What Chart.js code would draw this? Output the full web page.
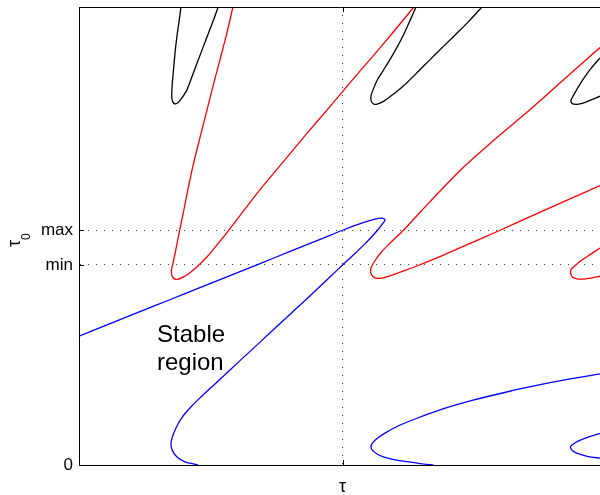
<!DOCTYPE html>
<html>
<head>
<meta charset="utf-8">
<script src="https://cdn.jsdelivr.net/npm/chart.js@4/dist/chart.umd.min.js"></script>
<style>
  html, body { margin: 0; padding: 0; background: #fff; }
  canvas { display: block; }
</style>
</head>
<body>
<canvas id="chart" width="600" height="495"></canvas>
<script>
// axis units: tau = 1 on x, max = 1 on y
const xMax = 1.977
const yMax = 1.951

const xTickValues = [1]
const xTickLabels = ['τ']
const yTickValues = [0, 0.852, 1]
const yTickLabels = ['0', 'min', 'max']

// curves, [tau, tau0]
const black1 = [[0.387,1.951],[0.380,1.893],[0.373,1.838],[0.367,1.783],[0.362,1.727],[0.358,1.676],[0.354,1.625],[0.352,1.582],[0.353,1.557],[0.359,1.542],[0.366,1.538],[0.376,1.544],[0.387,1.559],[0.398,1.576],[0.410,1.599],[0.429,1.655],[0.453,1.727],[0.471,1.780],[0.490,1.836],[0.509,1.891],[0.528,1.951]]
const black2 = [[1.279,1.951],[1.256,1.893],[1.233,1.836],[1.207,1.780],[1.180,1.727],[1.154,1.680],[1.131,1.638],[1.116,1.599],[1.108,1.571],[1.109,1.550],[1.118,1.538],[1.131,1.537],[1.155,1.549],[1.180,1.569],[1.211,1.595],[1.244,1.628],[1.287,1.676],[1.332,1.727],[1.381,1.781],[1.431,1.836],[1.480,1.891],[1.529,1.951]]
const black3 = [[1.977,1.734],[1.939,1.684],[1.905,1.629],[1.880,1.582],[1.867,1.554],[1.871,1.540],[1.886,1.536],[1.905,1.539],[1.932,1.550],[1.977,1.571]]

const red1 = [[0.584,1.951],[0.560,1.834],[0.535,1.727],[0.510,1.620],[0.486,1.514],[0.462,1.407],[0.438,1.301],[0.417,1.194],[0.398,1.087],[0.381,0.994],[0.368,0.921],[0.358,0.866],[0.351,0.832],[0.353,0.806],[0.362,0.793],[0.374,0.791],[0.395,0.800],[0.421,0.819],[0.452,0.849],[0.486,0.887],[0.524,0.938],[0.562,0.991],[0.622,1.079],[0.687,1.173],[0.774,1.290],[0.861,1.407],[0.953,1.528],[1.028,1.628],[1.104,1.727],[1.188,1.838],[1.271,1.951]]
const red2 = [[1.977,1.778],[1.844,1.646],[1.712,1.514],[1.585,1.394],[1.458,1.267],[1.332,1.122],[1.231,1.000],[1.180,0.945],[1.142,0.900],[1.123,0.870],[1.109,0.842],[1.107,0.819],[1.116,0.802],[1.131,0.795],[1.154,0.797],[1.180,0.806],[1.237,0.829],[1.294,0.853],[1.376,0.891],[1.458,0.931],[1.598,1.000],[1.712,1.058],[1.844,1.124],[1.977,1.190]]
const red3 = [[1.977,0.924],[1.939,0.896],[1.901,0.867],[1.879,0.846],[1.867,0.832],[1.866,0.815],[1.873,0.800],[1.890,0.793],[1.913,0.792],[1.939,0.796],[1.977,0.804]]

const blue1 = [[0.452,0],[0.402,0.013],[0.372,0.034],[0.355,0.060],[0.349,0.085],[0.353,0.115],[0.368,0.158],[0.391,0.203],[0.421,0.243],[0.459,0.286],[0.516,0.345],[0.573,0.405],[0.649,0.484],[0.725,0.563],[0.801,0.642],[0.877,0.721],[0.953,0.802],[1.000,0.852],[1.028,0.881],[1.085,0.942],[1.131,0.998],[1.154,1.030],[1.161,1.043],[1.157,1.049],[1.146,1.052],[1.123,1.047],[1.078,1.032],[1.000,1.000],[0.915,0.961],[0.801,0.910],[0.687,0.858],[0.573,0.807],[0.459,0.756],[0.345,0.704],[0.231,0.653],[0.118,0.602],[0,0.549]]
const blue2 = [[1.977,0.388],[1.863,0.367],[1.750,0.342],[1.623,0.311],[1.495,0.276],[1.370,0.235],[1.275,0.196],[1.207,0.164],[1.161,0.136],[1.131,0.113],[1.114,0.094],[1.108,0.078],[1.114,0.062],[1.131,0.047],[1.155,0.035],[1.195,0.023],[1.244,0.014],[1.294,0.006],[1.345,0]]
const blue3 = [[1.977,0.135],[1.932,0.119],[1.894,0.102],[1.873,0.087],[1.865,0.075],[1.873,0.061],[1.894,0.048],[1.932,0.036],[1.977,0.029]]

const curves = [
  { pts: blue1, color: '#0000ff' },
  { pts: blue2, color: '#0000ff' },
  { pts: blue3, color: '#0000ff' },
  { pts: red1, color: '#ff0000' },
  { pts: red2, color: '#ff0000' },
  { pts: red3, color: '#ff0000' },
  { pts: black1, color: '#000000' },
  { pts: black2, color: '#000000' },
  { pts: black3, color: '#000000' }
]

const FONT = '"Liberation Sans", Arial, Helvetica, sans-serif'

// frame top, inward ticks, y title and the label inside the plot
const extras = {
  id: 'extras',
  afterDraw(chart) {
    const { ctx, chartArea: a, scales: { x, y } } = chart
    ctx.save()
    ctx.strokeStyle = '#000'
    ctx.lineWidth = 1
    ctx.beginPath()
    const top = Math.round(a.top) + 0.5
    ctx.moveTo(a.left, top)
    ctx.lineTo(a.right, top)
    yTickValues.forEach(v => {
      const py = Math.round(y.getPixelForValue(v)) + 0.5
      ctx.moveTo(a.left, py)
      ctx.lineTo(a.left + 5, py)
    })
    xTickValues.forEach(v => {
      const px = Math.round(x.getPixelForValue(v)) + 0.5
      ctx.moveTo(px, a.bottom)
      ctx.lineTo(px, a.bottom - 5)
      ctx.moveTo(px, a.top)
      ctx.lineTo(px, a.top + 5)
    })
    ctx.stroke()

    ctx.fillStyle = '#000'
    ctx.textBaseline = 'alphabetic'
    ctx.translate(19.5, 247)
    ctx.rotate(-Math.PI / 2)
    ctx.font = '18px ' + FONT
    ctx.fillText('τ', 0, 0)
    const w = ctx.measureText('τ').width
    ctx.font = '12px ' + FONT
    ctx.fillText('0', w, 10)
    ctx.restore()

    ctx.save()
    ctx.fillStyle = '#000'
    ctx.font = '24px ' + FONT
    ctx.textBaseline = 'alphabetic'
    ctx.fillText('Stable', x.getPixelForValue(0.296), y.getPixelForValue(0.524))
    ctx.fillText('region', x.getPixelForValue(0.296), y.getPixelForValue(0.405))
    ctx.restore()
  }
}

new Chart(document.getElementById('chart'), {
  type: 'scatter',
  data: {
    datasets: curves.map(c => ({
      data: c.pts.map(p => ({ x: p[0], y: p[1] })),
      showLine: true,
      borderColor: c.color,
      borderWidth: 1.3,
      pointRadius: 0,
      tension: 0.25
    }))
  },
  options: {
    responsive: false,
    animation: false,
    layout: { padding: { top: 7, right: 0, bottom: 0, left: 0 } },
    plugins: {
      legend: { display: false },
      tooltip: { enabled: false }
    },
    scales: {
      x: {
        type: 'linear',
        min: 0,
        max: xMax,
        afterFit: s => { s.height = 30; s.paddingLeft = 0; s.paddingRight = 0 },
        afterBuildTicks: s => { s.ticks = xTickValues.map(v => ({ value: v })) },
        ticks: {
          color: '#000',
          font: { size: 18, family: FONT },
          padding: 11,
          callback: v => xTickLabels[xTickValues.indexOf(v)]
        },
        grid: { color: 'rgba(0,0,0,0.75)', lineWidth: 1, drawTicks: false },
        border: { display: true, color: '#000', width: 1, dash: [1, 7] }
      },
      y: {
        type: 'linear',
        min: 0,
        max: yMax,
        afterFit: s => { s.width = 79; s.paddingTop = 0; s.paddingBottom = 0 },
        afterBuildTicks: s => { s.ticks = yTickValues.map(v => ({ value: v })) },
        ticks: {
          color: '#000',
          font: { size: 17, family: FONT },
          padding: 6,
          callback: v => yTickLabels[yTickValues.indexOf(v)]
        },
        grid: { color: 'rgba(0,0,0,0.75)', lineWidth: 1, drawTicks: false },
        border: { display: true, color: '#000', width: 1, dash: [1, 7] }
      }
    }
  },
  plugins: [extras]
})
</script>
</body>
</html>
